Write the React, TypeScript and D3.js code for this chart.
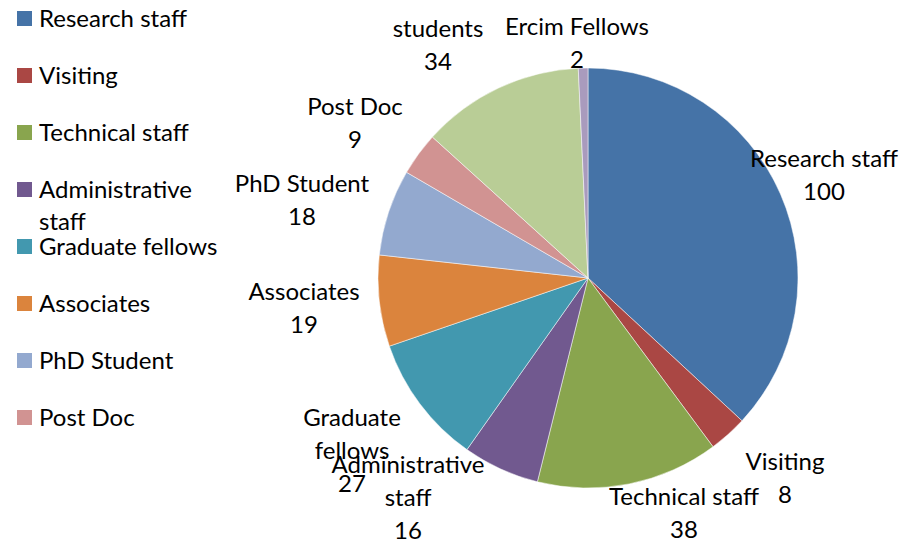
import React from "react";
import * as d3 from "d3";

const categories = ["Research staff", "Visiting", "Technical staff", "Administrative staff", "Graduate fellows", "Associates", "PhD Student", "Post Doc", "students", "Ercim Fellows"];
const values = [100, 8, 38, 16, 27, 19, 18, 9, 34, 2];
const colors = ["#4573A7", "#AA4744", "#89A54E", "#71598F", "#4298AF", "#DB843D", "#93A9CF", "#D19392", "#B9CD96", "#A99BBD"];
const labelLines = [["Research staff"], ["Visiting"], ["Technical staff"], ["Administrative", "staff"], ["Graduate", "fellows"], ["Associates"], ["PhD Student"], ["Post Doc"], ["students"], ["Ercim Fellows"]];
const legendLines = [["Research staff"], ["Visiting"], ["Technical staff"], ["Administrative", "staff"], ["Graduate fellows"], ["Associates"], ["PhD Student"], ["Post Doc"]];

// layout: label block centres relative to pie centre
const labelOffsets: [number, number][] = [[236, -103], [197, 200], [96, 235], [-180, 219], [-236, 172], [-284, 30], [-286, -78], [-233, -155], [-150, -233], [-11, -235]];

const W = 915, H = 543;
const cx = 588, cy = 278, R = 210;
const FONT = "Lato, 'Open Sans', sans-serif";
const FS = 24;
const LH = 33;

export default function App() {
  const pie = d3.pie<number>().sort(null).value(d => d);
  const arcs = pie(values);
  const arc = d3.arc<d3.PieArcDatum<number>>().innerRadius(0).outerRadius(R);
  return (
    <svg width={W} height={H} style={{ position: "absolute", left: 0, top: 0, background: "#fff" }} fontFamily={FONT} fontSize={FS}>
      <g transform={`translate(${cx},${cy})`}>
        {arcs.map((a, i) => (
          <path key={i} d={arc(a) || ""} fill={colors[i]} stroke="#fff" strokeWidth={0.5}>
            <title>{categories[i]}</title>
          </path>
        ))}
      </g>
      {legendLines.map((lines, i) => (
        <g key={i} transform={`translate(17,${11 + i * 57})`}>
          <rect x={0} y={0} width={15} height={15} fill={colors[i]} />
          {lines.map((t, j) => (
            <text key={j} x={22} y={16 + j * 32} fill="#000">{t}</text>
          ))}
        </g>
      ))}
      {arcs.map((a, i) => {
        const lines = [...labelLines[i], String(values[i])];
        const [dx, dy] = labelOffsets[i];
        const top = cy + dy - (lines.length * LH) / 2;
        return (
          <g key={i}>
            {lines.map((t, j) => (
              <text key={j} x={cx + dx} y={top + j * LH + 25} textAnchor="middle" fill="#000">{t}</text>
            ))}
          </g>
        );
      })}
    </svg>
  );
}
